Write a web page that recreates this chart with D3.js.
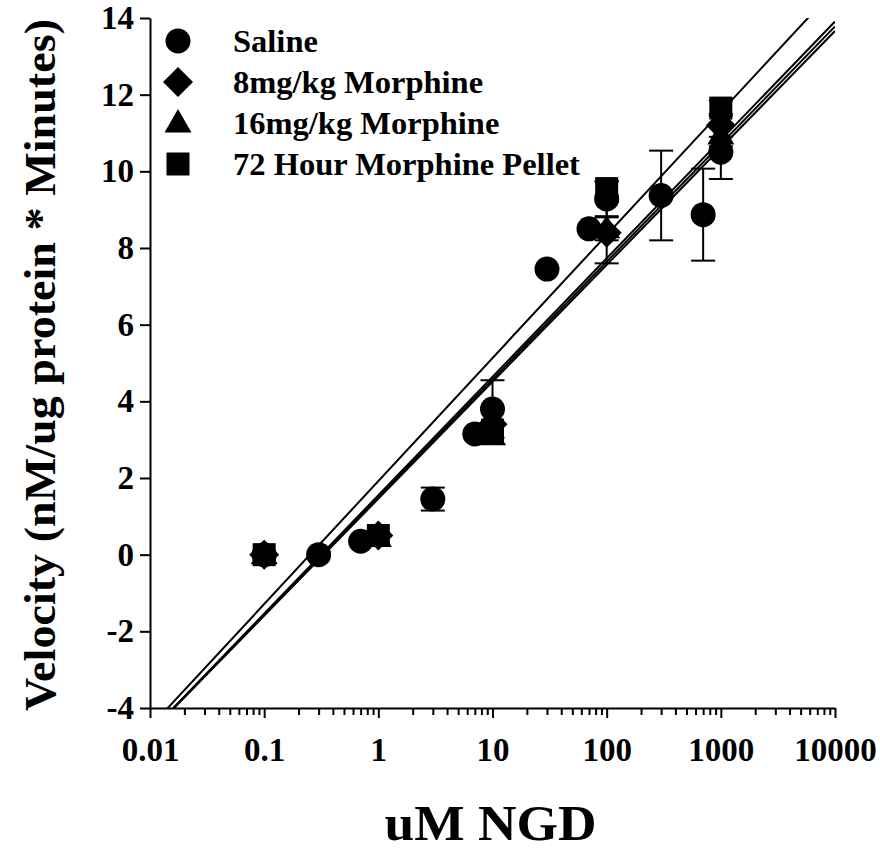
<!DOCTYPE html>
<html>
<head>
<meta charset="utf-8">
<script src="https://cdn.jsdelivr.net/npm/d3@7"></script>
<style>
  html, body { margin: 0; padding: 0; background: #fff; }
  svg text { font-family: "Liberation Serif", "Times New Roman", serif; font-weight: bold; fill: #000; }
</style>
</head>
<body>
<svg id="chart" width="880" height="851"></svg>
<script>
// ---------- data ----------
const seriesNames = ["Saline", "8mg/kg Morphine", "16mg/kg Morphine", "72 Hour Morphine Pellet"];
const seriesShapes = ["circle", "diamond", "triangle", "square"];

const salineX   = [0.1, 0.3, 0.7, 3, 7, 10, 30, 70, 100, 300, 700, 1000];
const salineY   = [0, 0, 0.35, 1.45, 3.15, 3.8, 7.45, 8.5, 9.28, 9.37, 8.87, 10.5];
const salineErr = [0, 0, 0, 0.3, 0, 0.75, 0, 0, 0.45, 1.17, 1.2, 0.7];

const mor8X   = [0.1, 1, 10, 100, 1000];
const mor8Y   = [0, 0.5, 3.4, 8.4, 11.2];
const mor8Err = [0, 0, 0, 0.8, 0.3];

const mor16X   = [0.1, 1, 10, 100, 1000];
const mor16Y   = [0, 0.45, 3.1, 8.5, 10.95];
const mor16Err = [0, 0, 0, 0.3, 0.3];

const pelletX   = [0.1, 1, 10, 100, 1000];
const pelletY   = [0, 0.5, 3.25, 9.55, 11.65];
const pelletErr = [0, 0, 0, 0.2, 0.2];

// linear fits in log10(x): y = intercept + slope * log10(x)
const fitSlope     = [3.07, 3.05, 3.09, 3.21];
const fitIntercept = [1.50, 1.46, 1.55, 1.92];

const xTickValues = [0.01, 0.1, 1, 10, 100, 1000, 10000];
const xTickLabels = ["0.01", "0.1", "1", "10", "100", "1000", "10000"];
const yTickValues = [-4, -2, 0, 2, 4, 6, 8, 10, 12, 14];

const xTitle = "uM NGD";
const yTitle = "Velocity (nM/ug protein * Minutes)";

// ---------- layout ----------
const plotL = 150, plotR = 835, plotT = 18, plotB = 708;
const svg = d3.select("#chart");

const x = d3.scaleLog().domain([0.01, 10000]).range([plotL, plotR]);
const y = d3.scaleLinear().domain([-4, 14]).range([plotB, plotT]);

const series = [
  { xs: salineX, ys: salineY, es: salineErr },
  { xs: mor8X, ys: mor8Y, es: mor8Err },
  { xs: mor16X, ys: mor16Y, es: mor16Err },
  { xs: pelletX, ys: pelletY, es: pelletErr }
].map((s, i) => ({
  name: seriesNames[i], shape: seriesShapes[i],
  points: s.xs.map((xv, j) => ({ x: xv, y: s.ys[j], e: s.es[j] }))
}));

function shapePath(shape) {
  switch (shape) {
    case "circle":   return d3.symbol().type(d3.symbolCircle).size(Math.PI * 12.5 * 12.5)();
    case "diamond":  return "M0,-15L15,0L0,15L-15,0Z";
    case "triangle": return "M0,-14L13.5,9.5L-13.5,9.5Z";
    case "square":   return "M-11.5,-11.5H11.5V11.5H-11.5Z";
  }
}

// clip
svg.append("defs").append("clipPath").attr("id", "plotclip")
  .append("rect").attr("x", plotL).attr("y", plotT).attr("width", plotR - plotL).attr("height", plotB - plotT);

// fit lines
const fitG = svg.append("g").attr("clip-path", "url(#plotclip)");
fitSlope.forEach((m, i) => {
  const b = fitIntercept[i];
  const d0 = 0.01, d1 = 10000;
  fitG.append("line")
    .attr("x1", x(d0)).attr("y1", y(b + m * Math.log10(d0)))
    .attr("x2", x(d1)).attr("y2", y(b + m * Math.log10(d1)))
    .attr("stroke", "#000").attr("stroke-width", 2);
});

// axes
const yAxis = d3.axisLeft(y).tickValues(yTickValues).tickSize(10).tickSizeOuter(0).tickPadding(6).tickFormat(d3.format("d"));
const gy = svg.append("g").attr("transform", `translate(${plotL},0)`).call(yAxis);
gy.select(".domain").attr("stroke-width", 2);
gy.selectAll(".tick line").attr("stroke-width", 2);
gy.selectAll(".tick text").attr("font-size", 33).attr("font-family", "Liberation Serif").attr("font-weight", "bold").attr("fill", "#000")
  .text(d => d < 0 ? "-" + Math.abs(d) : d);

// minor x ticks
const minorTicks = [];
for (let p = -2; p < 4; p++) for (let k = 2; k <= 9; k++) minorTicks.push(k * Math.pow(10, p));
const xMinor = d3.axisBottom(x).tickValues(minorTicks).tickSize(7).tickSizeOuter(0).tickFormat("");
const gxm = svg.append("g").attr("transform", `translate(0,${plotB})`).call(xMinor);
gxm.select(".domain").remove();
gxm.selectAll(".tick line").attr("stroke-width", 2);

const xAxis = d3.axisBottom(x).tickValues(xTickValues).tickSize(10).tickSizeOuter(0).tickPadding(20)
  .tickFormat((d, i) => xTickLabels[i]);
const gx = svg.append("g").attr("transform", `translate(0,${plotB})`).call(xAxis);
gx.select(".domain").attr("stroke-width", 2);
gx.selectAll(".tick line").attr("stroke-width", 2);
gx.selectAll(".tick text").attr("font-size", 33).attr("font-family", "Liberation Serif").attr("font-weight", "bold").attr("fill", "#000");

// titles
svg.append("text").attr("x", (plotL + plotR) / 2 - 2).attr("y", 840)
  .attr("text-anchor", "middle").attr("font-size", 50)
  .attr("textLength", 212).attr("lengthAdjust", "spacingAndGlyphs").text(xTitle);
svg.append("text").attr("transform", `translate(55,${(plotT + plotB) / 2 + 2}) rotate(-90)`)
  .attr("text-anchor", "middle").attr("font-size", 45)
  .attr("textLength", 692).attr("lengthAdjust", "spacingAndGlyphs").text(yTitle);

// error bars
const errG = svg.append("g");
series.forEach(s => {
  s.points.filter(p => p.e > 0).forEach(p => {
    const cx = x(p.x);
    errG.append("line").attr("x1", cx).attr("x2", cx).attr("y1", y(p.y - p.e)).attr("y2", y(p.y + p.e))
      .attr("stroke", "#000").attr("stroke-width", 2);
    [p.y - p.e, p.y + p.e].forEach(v => {
      errG.append("line").attr("x1", cx - 12).attr("x2", cx + 12).attr("y1", y(v)).attr("y2", y(v))
        .attr("stroke", "#000").attr("stroke-width", 2);
    });
  });
});

// markers
const markG = svg.append("g");
series.forEach(s => {
  markG.selectAll(null).data(s.points).enter().append("path")
    .attr("d", shapePath(s.shape))
    .attr("transform", d => `translate(${x(d.x)},${y(d.y)})`)
    .attr("fill", "#000");
});

// legend
const legG = svg.append("g");
series.forEach((s, i) => {
  const base = 52 + i * 41;
  legG.append("path").attr("d", shapePath(s.shape))
    .attr("transform", `translate(178,${base - 11})`).attr("fill", "#000");
  legG.append("text").attr("x", 233).attr("y", base).attr("font-size", 32.5).text(s.name);
});
</script>
</body>
</html>
